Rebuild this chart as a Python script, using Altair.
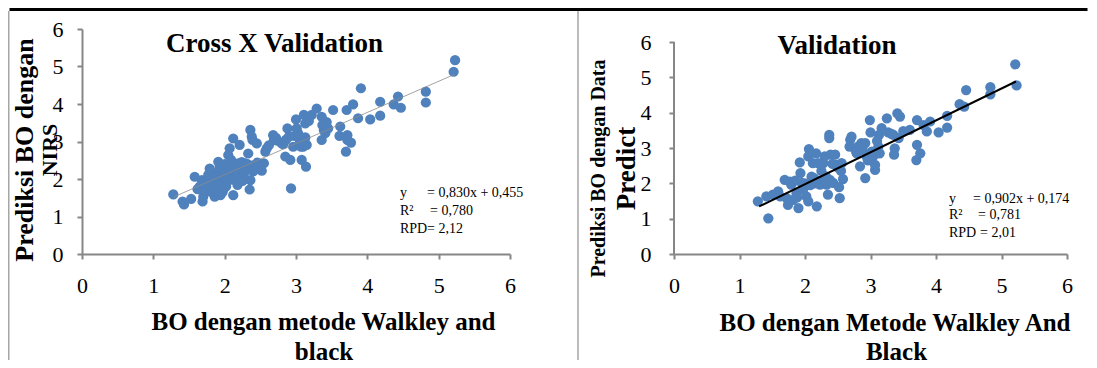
import altair as alt
import pandas as pd

# ---------------- data ----------------
cv_x = [1.28, 1.41, 1.43, 1.53, 1.58, 1.62, 1.68, 1.69, 1.70, 1.71, 1.77, 1.79, 1.80, 1.83, 1.84,
        1.84, 1.86, 1.88, 1.89, 1.91, 1.93, 1.93, 1.94, 1.96, 1.97, 1.98, 1.99, 2.03, 2.04, 2.05,
        2.07, 2.09, 2.10, 2.12, 2.12, 2.14, 2.16, 2.18, 2.19, 2.21, 2.22, 2.25, 2.29, 2.30, 2.33,
        2.35, 2.36, 2.36, 2.38, 2.39, 2.41, 2.45, 2.46, 2.50, 2.52, 2.55, 2.57, 2.59, 2.68, 2.69,
        2.74, 2.80, 2.82, 2.85, 2.88, 2.90, 2.92, 2.93, 2.96, 3.00, 3.01, 3.03, 3.06, 3.07, 3.08,
        3.10, 3.11, 3.13, 3.13, 3.14, 3.15, 3.22, 3.29, 3.36, 3.36, 3.37, 3.39, 3.41, 3.45, 3.52,
        3.61, 3.62, 3.70, 3.71, 3.72, 3.72, 3.77, 3.80, 3.87, 3.91, 4.04, 4.18, 4.18, 4.37, 4.43,
        4.47, 4.82, 4.82, 5.21, 5.23,
        1.75, 1.80, 1.87, 1.90, 1.95, 2.00, 2.02, 2.06, 2.08, 2.11, 2.15, 2.20, 2.24, 2.27, 2.32,
        2.40, 2.48, 2.62, 2.72, 2.86, 2.98, 3.05, 3.12, 2.25, 1.97, 3.18, 3.43, 1.65, 1.73]
cv_y = [1.59, 1.40, 1.32, 1.47, 2.06, 1.73, 1.97, 1.40, 1.53, 1.93, 2.11, 2.28, 2.20, 1.97, 1.80,
        1.62, 1.53, 1.88, 2.15, 2.46, 2.33, 1.97, 1.57, 2.33, 2.06, 1.84, 1.75, 1.93, 2.15, 2.64,
        2.82, 2.51, 2.33, 3.08, 1.57, 2.24, 2.06, 1.84, 2.42, 2.91, 2.20, 2.33, 2.42, 2.24, 2.68,
        1.72, 1.97, 3.31, 3.13, 3.04, 2.37, 2.95, 2.44, 2.28, 2.22, 2.42, 2.73, 2.82, 3.17, 3.04,
        3.02, 2.95, 2.93, 2.60, 3.35, 3.13, 2.51, 1.75, 2.86, 3.59, 3.35, 3.22, 3.04, 2.86, 2.51,
        2.86, 3.71, 3.48, 3.11, 2.33, 2.91, 3.71, 3.88, 3.66, 3.04, 3.44, 3.31, 3.22, 3.35, 3.84,
        3.15, 3.40, 2.73, 3.84, 3.17, 3.04, 2.97, 3.99, 3.62, 4.42, 3.59, 4.06, 3.69, 3.99, 4.20,
        3.90, 4.33, 4.04, 4.86, 5.17,
        1.85, 1.67, 2.05, 1.70, 2.20, 2.40, 1.80, 2.05, 2.28, 1.98, 2.35, 2.10, 2.45, 2.15, 2.40,
        2.20, 2.35, 2.90, 3.10, 3.05, 3.15, 2.95, 3.00, 1.95, 1.65, 3.55, 3.52, 1.80, 1.68]

val_x = [1.28, 1.41, 1.44, 1.51, 1.59, 1.62, 1.69, 1.74, 1.77, 1.79, 1.82, 1.87, 1.90, 1.92, 1.93,
         1.95, 1.97, 2.02, 2.05, 2.06, 2.05, 2.10, 2.12, 2.17, 2.18, 2.20, 2.23, 2.28, 2.30, 2.33,
         2.35, 2.37, 2.37, 2.38, 2.39, 2.43, 2.46, 2.48, 2.52, 2.53, 2.56, 2.58, 2.68, 2.69, 2.71,
         2.79, 2.81, 2.84, 2.86, 2.92, 2.92, 2.94, 2.99, 3.00, 3.04, 3.07, 3.07, 3.12, 3.13, 3.14,
         3.17, 3.25, 3.27, 3.35, 3.36, 3.37, 3.41, 3.43, 3.45, 3.50, 3.60, 3.70, 3.71, 3.71, 3.76,
         3.81, 3.86, 3.91, 4.04, 4.17, 4.17, 4.36, 4.43, 4.46, 4.83, 4.83, 5.21, 5.23,
         1.85, 1.88, 1.98, 2.00, 2.08, 2.14, 2.22, 2.25, 2.32, 2.42, 2.50, 2.55, 2.88, 2.96, 3.02,
         3.10, 3.32, 2.78, 1.72, 2.15]
val_y = [1.49, 1.63, 1.01, 1.68, 1.77, 1.63, 2.10, 1.39, 2.05, 1.96, 1.53, 1.72, 1.30, 2.59, 2.29,
         2.01, 1.82, 1.63, 1.49, 2.97, 2.76, 2.19, 2.57, 2.85, 1.35, 2.57, 1.96, 2.57, 2.76, 1.96,
         1.68, 3.37, 3.28, 2.10, 2.81, 2.01, 2.81, 2.52, 1.89, 1.58, 2.57, 2.12, 3.04, 3.23, 3.32,
         2.85, 3.04, 2.48, 3.14, 2.15, 3.14, 2.76, 3.79, 3.44, 2.76, 2.38, 2.52, 3.04, 3.37, 2.85,
         3.56, 3.84, 3.44, 3.37, 2.81, 2.99, 3.98, 3.28, 3.89, 3.48, 3.51, 2.66, 3.09, 3.79, 2.85,
         3.65, 3.47, 3.75, 3.44, 3.91, 3.58, 4.24, 4.17, 4.64, 4.72, 4.52, 5.37, 4.77,
         2.08, 1.60, 1.88, 2.00, 1.95, 2.15, 2.05, 2.35, 2.20, 2.55, 2.45, 2.35, 2.95, 2.65, 2.90,
         3.20, 3.40, 2.90, 1.58, 2.00]

cv_trend_x = [1.28, 5.22]
cv_trend_y = [1.517, 4.788]
val_trend_x = [1.30, 5.22]
val_trend_y = [1.347, 4.882]

ticks = [0, 1, 2, 3, 4, 5, 6]

cv_title = "Cross X Validation"
val_title = "Validation"
cv_ytitle = ["Prediksi BO dengan", "NIRS"]
val_ytitle = ["Prediksi BO dengan Data", "Predict"]
cv_xtitle = ["BO dengan metode Walkley and", "black"]
val_xtitle = ["BO dengan Metode Walkley And", "Black"]
cv_stats = [("y", "= 0,830x + 0,455"), ("R²", "= 0,780"), ("RPD", "= 2,12")]
val_stats = [("y", "= 0,902x + 0,174"), ("R²", "= 0,781"), ("RPD", "= 2,01")]

# ---------------- styling ----------------
SERIF = "Liberation Serif"
BLUE = "#4F81BD"
AXIS = "#868686"
dummy = pd.DataFrame({"d": [0]})


def txt(text, x, y, size, bold=True, angle=0, align="center", baseline="middle"):
    kw = dict(text=text, font=SERIF, fontSize=size, fontWeight="bold" if bold else "normal",
              color="black", align=align, baseline=baseline)
    if angle:
        kw["angle"] = angle
    return alt.Chart(dummy).mark_text(**kw).encode(x=alt.value(x), y=alt.value(y))


XAX = alt.Axis(values=ticks, format="d", title=None, grid=False, tickSize=5, labelPadding=16,
               labelBaseline="top", labelFont=SERIF, labelFontSize=22, labelColor="black",
               labelOverlap=False, labelFlush=False,
               domainColor=AXIS, domainWidth=2, tickColor=AXIS, tickWidth=2)
YAX1 = alt.Axis(values=ticks, format="d", title=None, grid=False, tickSize=5, labelPadding=14,
                labelFont=SERIF, labelFontSize=22, labelColor="black",
                labelOverlap=False, labelFlush=False, labelBound=False,
                domainColor=AXIS, domainWidth=2, tickColor=AXIS, tickWidth=2)
YAX2 = alt.Axis(values=ticks, format="d", title=None, grid=False, tickSize=5, labelPadding=18,
                labelFont=SERIF, labelFontSize=22, labelColor="black", domain=False,
                labelOverlap=False, labelFlush=False, labelBound=False,
                tickColor=AXIS, tickWidth=2)

# ---------------- left panel ----------------
W1, H = 428, 225
cv_df = pd.DataFrame({"x": cv_x, "y": cv_y})
cv_tr = pd.DataFrame({"x": cv_trend_x, "y": cv_trend_y})
xs1 = alt.Scale(domain=[0, 6], nice=False, zero=False)
ys1 = alt.Scale(domain=[0, 6], nice=False, zero=False)

pts1 = alt.Chart(cv_df).mark_circle(size=105, color=BLUE, opacity=1).encode(
    x=alt.X("x:Q", scale=xs1, axis=XAX),
    y=alt.Y("y:Q", scale=ys1, axis=YAX1),
)
tr1 = alt.Chart(cv_tr).mark_line(color="#8C8C8C", strokeWidth=0.8).encode(
    x=alt.X("x:Q", scale=xs1, axis=XAX), y=alt.Y("y:Q", scale=ys1, axis=YAX1))

frame = [
    alt.Chart(dummy).mark_rule(color="black", strokeWidth=3).encode(
        x=alt.value(-72.5), x2=alt.value(1005.5), y=alt.value(-19.5)),
    alt.Chart(dummy).mark_rule(color="#A6A6A6", strokeWidth=1.5).encode(
        x=alt.value(-73.25), y=alt.value(-18), y2=alt.value(331)),
    alt.Chart(dummy).mark_rule(color="#A6A6A6", strokeWidth=1.5).encode(
        x=alt.value(496), y=alt.value(-18), y2=alt.value(331)),
]

left_text = [
    txt(cv_title, 192.5, 15, 27),
    txt(cv_ytitle[0], -57, 121, 26, angle=270),
    txt(cv_ytitle[1], -32, 121, 22, angle=270),
    txt(cv_xtitle[0], 241.5, 293, 25),
    txt(cv_xtitle[1], 242, 323, 25),
    txt(cv_stats[0][0], 318, 164, 14, bold=False, align="left"),
    txt(cv_stats[0][1], 345, 164, 14, bold=False, align="left"),
    txt(cv_stats[1][0], 318, 182, 14, bold=False, align="left"),
    txt(cv_stats[1][1], 348, 182, 14, bold=False, align="left"),
    txt(cv_stats[2][0], 318, 200, 14, bold=False, align="left"),
    txt(cv_stats[2][1], 345, 200, 14, bold=False, align="left"),
]

left = alt.layer(pts1, tr1, *frame, *left_text).properties(width=W1, height=H)

# ---------------- right panel ----------------
W2 = 393
val_df = pd.DataFrame({"x": val_x, "y": val_y})
val_tr = pd.DataFrame({"x": val_trend_x, "y": val_trend_y})
xs2 = alt.Scale(domain=[0, 6], nice=False, zero=False)
ys2 = alt.Scale(domain=[0, 6.368], nice=False, zero=False)

pts2 = alt.Chart(val_df).mark_circle(size=105, color=BLUE, opacity=1).encode(
    x=alt.X("x:Q", scale=xs2, axis=XAX),
    y=alt.Y("y:Q", scale=ys2, axis=YAX2),
)
ydom = alt.Chart(pd.DataFrame({"a": [0], "b": [6]})).mark_rule(color=AXIS, strokeWidth=2).encode(
    x=alt.value(0), y=alt.Y("a:Q", scale=ys2, axis=YAX2), y2="b:Q")
tr2 = alt.Chart(val_tr).mark_line(color="black", strokeWidth=2).encode(
    x=alt.X("x:Q", scale=xs2, axis=XAX), y=alt.Y("y:Q", scale=ys2, axis=YAX2))

right_text = [
    txt(val_title, 163, 17, 27),
    txt(val_ytitle[0], -75.5, 139.5, 20, angle=270),
    txt(val_ytitle[1], -47.5, 139.5, 27, angle=270),
    txt(val_xtitle[0], 221, 294, 25),
    txt(val_xtitle[1], 222.5, 323, 25),
    txt(val_stats[0][0], 275, 170, 14, bold=False, align="left"),
    txt(val_stats[0][1], 299, 170, 14, bold=False, align="left"),
    txt(val_stats[1][0], 275, 186, 14, bold=False, align="left"),
    txt(val_stats[1][1], 304, 186, 14, bold=False, align="left"),
    txt(val_stats[2][0], 275, 204, 14, bold=False, align="left"),
    txt(val_stats[2][1], 306, 204, 14, bold=False, align="left"),
]

right = alt.layer(pts2, ydom, tr2, *right_text).properties(width=W2, height=H)

chart = alt.hconcat(left, right, spacing=164, bounds="flush").properties(
    padding=0, background="white"
).configure_view(strokeWidth=0).configure_axis(labelOverlap=False)

chart.save("out.html", embed_options={"renderer": "svg", "actions": False})
